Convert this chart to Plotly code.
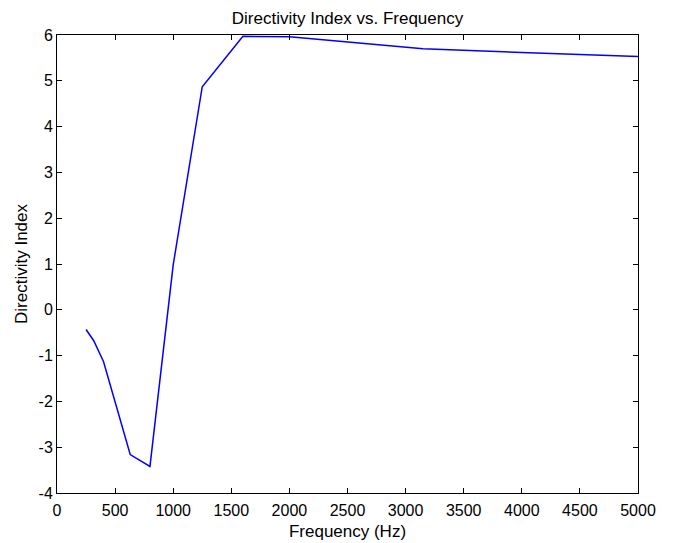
import plotly.graph_objects as go

freq = [250, 315, 400, 630, 800, 1000, 1250, 1600, 2000, 2500, 3150, 4000, 5000]
di = [-0.43, -0.67, -1.13, -3.16, -3.42, 0.98, 4.87, 5.97, 5.96, 5.84, 5.70, 5.62, 5.53]

x_ticks = list(range(0, 5001, 500))
y_ticks = list(range(-4, 7, 1))

FAM = "Liberation Sans, Arial, sans-serif"
tick_font = dict(family=FAM, size=16, color="black")
label_font = dict(family=FAM, size=17, color="black")

fig = go.Figure()
fig.add_trace(go.Scatter(x=freq, y=di, mode="lines",
                         line=dict(color="#0000ff", width=1.5), showlegend=False))

axis_common = dict(showgrid=False, zeroline=False, showline=True, linecolor="black",
                   linewidth=1, mirror="ticks", ticks="inside", ticklen=5,
                   tickcolor="black", tickwidth=1, tickfont=tick_font)

# page body has an 8px margin; margins below compensate so the plot area
# sits at x 57..638, y 35..493 in the screenshot
fig.update_layout(
    width=673, height=543,
    margin=dict(l=49, r=43, t=27, b=58),
    paper_bgcolor="white", plot_bgcolor="white",
    font=tick_font,
    title=dict(text="Directivity Index vs. Frequency", x=(347.5 - 8) / 673,
               xanchor="center", xref="container",
               y=1 - 10 / 543, yanchor="middle", yref="container",
               font=label_font),
    xaxis=dict(range=[0, 5000], tickvals=x_ticks, ticktext=[str(v) for v in x_ticks],
               ticklabelstandoff=3,
               title=dict(text="Frequency (Hz)", font=label_font, standoff=6), **axis_common),
    yaxis=dict(range=[-4, 6], tickvals=y_ticks, ticktext=[str(v) for v in y_ticks],
               title=dict(text="Directivity Index", font=label_font, standoff=6), **axis_common),
)

fig.write_html("out.html")
